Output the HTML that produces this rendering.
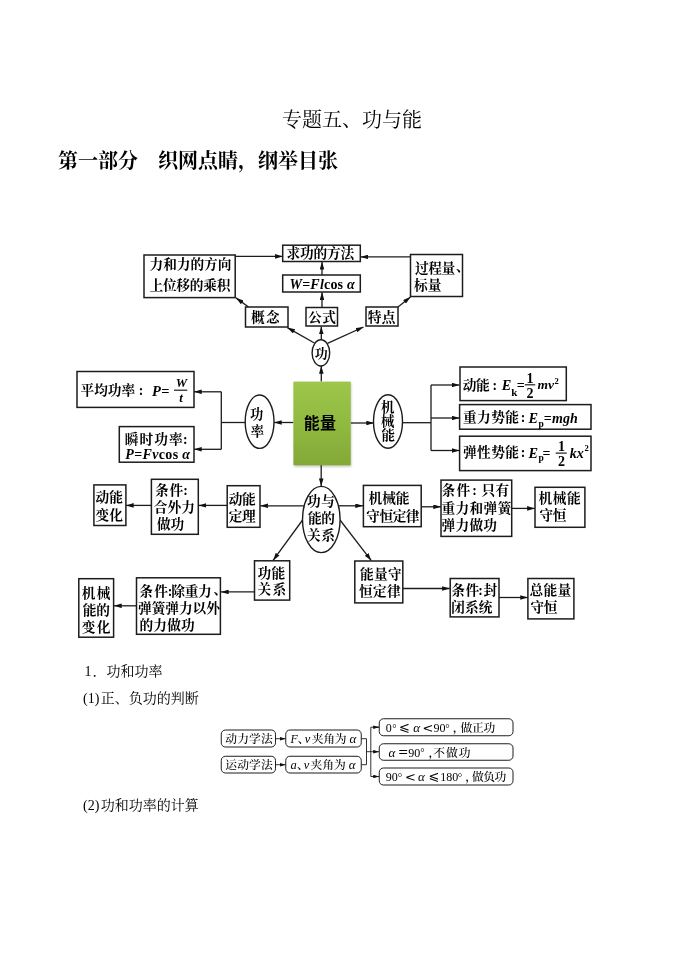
<!DOCTYPE html>
<html lang="zh-CN"><head><meta charset="utf-8"><title>专题五、功与能</title>
<style>
html,body{margin:0;padding:0;background:#fff}
body{width:688px;height:971px;position:relative;overflow:hidden;font-family:"Liberation Serif","Noto Serif CJK SC",serif;color:#000}
.t{position:absolute;white-space:pre;line-height:1;filter:blur(0.25px)}
#title{left:282px;top:110px;font-size:20px;font-weight:400}
#h1{left:58px;top:151px;font-size:20px;font-weight:700}
.p{font-size:14px}
svg{position:absolute;left:0;top:0}
svg text{fill:#000}
.b{font-family:"Liberation Serif","Noto Serif CJK SC",serif;font-weight:700}
.h{font-family:"Liberation Sans","Noto Sans CJK SC",sans-serif;font-weight:700}
.m{font-family:"Liberation Serif",serif;font-weight:700}
.mi{font-family:"Liberation Serif",serif;font-weight:700;font-style:italic}
.s{font-family:"Liberation Serif","Noto Serif CJK SC",serif;font-weight:500}
.op{font-family:"DejaVu Math TeX Gyre","DejaVu Sans",sans-serif;font-weight:400}
.ri{font-family:"Liberation Serif",serif;font-style:italic;font-weight:400}
#d1{filter:blur(0.45px)}
#d2{filter:blur(0.25px)}
</style></head><body>
<div class="t" id="title">专题五、功与能</div>
<div class="t" id="h1">第一部分<span style="margin-left:20px">织网点睛，纲举目张</span></div>
<div class="t p" style="left:84.5px;top:665px">1<span style="margin-left:1px">．功和功率</span></div>
<div class="t p" style="left:83px;top:692px">(1)<span style="margin-left:1.5px">正、负功的判断</span></div>
<div class="t p" style="left:83px;top:798.5px">(2)<span style="margin-left:1.5px">功和功率的计算</span></div>
<svg width="688" height="971" viewBox="0 0 688 971">
<defs>
<marker id="a" viewBox="0 0 10 6" refX="10" refY="3" markerWidth="8" markerHeight="4.6" markerUnits="userSpaceOnUse" orient="auto"><path d="M0 0 L10 3 L0 6 Z" fill="#111"/></marker>
<marker id="s" viewBox="0 0 10 6" refX="10" refY="3" markerWidth="6" markerHeight="3.8" markerUnits="userSpaceOnUse" orient="auto"><path d="M0 0 L10 3 L0 6 Z" fill="#111"/></marker>
<linearGradient id="gg" x1="0" y1="0" x2="0" y2="1"><stop offset="0" stop-color="#9dc64a"/><stop offset="0.5" stop-color="#90ba40"/><stop offset="1" stop-color="#83a838"/></linearGradient>
<filter id="sh" x="-20%" y="-20%" width="140%" height="140%"><feGaussianBlur stdDeviation="0.9"/></filter>
</defs>
<g id="d1">
<path d="M235.2 256.4 L282.7 256.4" fill="none" stroke="#1c1c1c" stroke-width="1.3" marker-end="url(#a)"/>
<path d="M410.5 256.9 L360.6 256.9" fill="none" stroke="#1c1c1c" stroke-width="1.3" marker-end="url(#a)"/>
<path d="M322 307.5 L322 292.3" fill="none" stroke="#1c1c1c" stroke-width="1.3" marker-end="url(#a)"/>
<path d="M322 275 L322 261.8" fill="none" stroke="#1c1c1c" stroke-width="1.3" marker-end="url(#a)"/>
<path d="M248.5 307 L236 297.9" fill="none" stroke="#1c1c1c" stroke-width="1.3" marker-end="url(#a)"/>
<path d="M398 307 L410.5 297" fill="none" stroke="#1c1c1c" stroke-width="1.3" marker-end="url(#a)"/>
<path d="M321.3 340 L321.3 326.5" fill="none" stroke="#1c1c1c" stroke-width="1.3" marker-end="url(#a)"/>
<path d="M314.4 343 L287.3 327.6" fill="none" stroke="#1c1c1c" stroke-width="1.3" marker-end="url(#a)"/>
<path d="M327.5 343.3 L363.5 327" fill="none" stroke="#1c1c1c" stroke-width="1.3" marker-end="url(#a)"/>
<path d="M321.3 381.6 L321.3 366" fill="none" stroke="#1c1c1c" stroke-width="1.3" marker-end="url(#a)"/>
<path d="M293.4 422.5 L274 422.5" fill="none" stroke="#1c1c1c" stroke-width="1.3" marker-end="url(#a)"/>
<path d="M350.7 423 L374 423" fill="none" stroke="#1c1c1c" stroke-width="1.3" marker-end="url(#a)"/>
<path d="M245.5 422.5 L221.3 422.5" fill="none" stroke="#1c1c1c" stroke-width="1.3"/>
<path d="M221.3 391.8 L221.3 449.3" fill="none" stroke="#1c1c1c" stroke-width="1.3"/>
<path d="M221.3 391.8 L194 391.8" fill="none" stroke="#1c1c1c" stroke-width="1.3" marker-end="url(#a)"/>
<path d="M221.3 449.3 L194 449.3" fill="none" stroke="#1c1c1c" stroke-width="1.3" marker-end="url(#a)"/>
<path d="M402.5 422.7 L431 422.7" fill="none" stroke="#1c1c1c" stroke-width="1.3"/>
<path d="M431 385 L431 450.5" fill="none" stroke="#1c1c1c" stroke-width="1.3"/>
<path d="M431 385 L459.5 385" fill="none" stroke="#1c1c1c" stroke-width="1.3" marker-end="url(#a)"/>
<path d="M431 418 L459.5 418" fill="none" stroke="#1c1c1c" stroke-width="1.3" marker-end="url(#a)"/>
<path d="M431 450.5 L459.5 450.5" fill="none" stroke="#1c1c1c" stroke-width="1.3" marker-end="url(#a)"/>
<path d="M321.2 465 L321.2 486.2" fill="none" stroke="#1c1c1c" stroke-width="1.3" marker-end="url(#a)"/>
<path d="M304 505.8 L260.3 505.8" fill="none" stroke="#1c1c1c" stroke-width="1.3" marker-end="url(#a)"/>
<path d="M339 505.8 L363 505.8" fill="none" stroke="#1c1c1c" stroke-width="1.3" marker-end="url(#a)"/>
<path d="M227.2 505.4 L198.6 505.4" fill="none" stroke="#1c1c1c" stroke-width="1.3" marker-end="url(#a)"/>
<path d="M151.4 505.4 L126 505.4" fill="none" stroke="#1c1c1c" stroke-width="1.3" marker-end="url(#a)"/>
<path d="M421.25 506.8 L441 506.8" fill="none" stroke="#1c1c1c" stroke-width="1.3" marker-end="url(#a)"/>
<path d="M511.7 508.4 L534.8 508.4" fill="none" stroke="#1c1c1c" stroke-width="1.3" marker-end="url(#a)"/>
<path d="M302.6 520 L273.1 560.4" fill="none" stroke="#1c1c1c" stroke-width="1.3" marker-end="url(#a)"/>
<path d="M340 520 L371.3 560.6" fill="none" stroke="#1c1c1c" stroke-width="1.3" marker-end="url(#a)"/>
<path d="M254.5 591.9 L221 591.9" fill="none" stroke="#1c1c1c" stroke-width="1.3" marker-end="url(#a)"/>
<path d="M136.5 605.8 L114 605.8" fill="none" stroke="#1c1c1c" stroke-width="1.3" marker-end="url(#a)"/>
<path d="M402.8 588.5 L449.8 588.5" fill="none" stroke="#1c1c1c" stroke-width="1.3" marker-end="url(#a)"/>
<path d="M499 597.5 L527.9 597.5" fill="none" stroke="#1c1c1c" stroke-width="1.3" marker-end="url(#a)"/>
<rect x="144" y="255" width="91.2" height="42.6" rx="0" fill="#fff" stroke="#1c1c1c" stroke-width="1.5"/>
<rect x="282.7" y="245.2" width="77.6" height="16.3" rx="0" fill="#fff" stroke="#1c1c1c" stroke-width="1.5"/>
<rect x="282.7" y="275" width="77.6" height="17" rx="0" fill="#fff" stroke="#1c1c1c" stroke-width="1.5"/>
<text x="289.5" y="288.8" font-size="14" class="m" letter-spacing="0.2"><tspan class="mi">W</tspan>=<tspan class="mi">Fl</tspan>cos <tspan class="mi">α</tspan></text>
<rect x="245.5" y="307" width="42.5" height="20" rx="0" fill="#fff" stroke="#1c1c1c" stroke-width="1.5"/>
<rect x="306" y="307.5" width="31.5" height="18.5" rx="0" fill="#fff" stroke="#1c1c1c" stroke-width="1.5"/>
<rect x="366" y="307" width="32" height="19" rx="0" fill="#fff" stroke="#1c1c1c" stroke-width="1.5"/>
<rect x="410.5" y="254.5" width="52.0" height="42.0" rx="0" fill="#fff" stroke="#1c1c1c" stroke-width="1.5"/>
<ellipse cx="320.9" cy="352.9" rx="8.8" ry="13.1" fill="#fff" stroke="#1c1c1c" stroke-width="1.4"/>
<rect x="294.2" y="383" width="57" height="83.6" fill="#3c4a18" opacity="0.35" filter="url(#sh)"/>
<rect x="293.4" y="381.6" width="57.3" height="83.6" fill="url(#gg)"/>
<ellipse cx="259.6" cy="421.7" rx="14.4" ry="26.7" fill="#fff" stroke="#1c1c1c" stroke-width="1.4"/>
<ellipse cx="388" cy="421.5" rx="14.5" ry="26.8" fill="#fff" stroke="#1c1c1c" stroke-width="1.4"/>
<rect x="77" y="371.5" width="117" height="35.9" rx="0" fill="#fff" stroke="#1c1c1c" stroke-width="1.5"/>
<text x="152" y="395.8" font-size="14.5" class="m"><tspan class="mi">P</tspan><tspan dx="0.5">=</tspan></text>
<text x="181.5" y="386.7" font-size="12.8" class="mi" text-anchor="middle">W</text>
<text x="181" y="401.6" font-size="12.8" class="mi" text-anchor="middle">t</text>
<path d="M174 390.2 L187.3 390.2" fill="none" stroke="#1c1c1c" stroke-width="1.2"/>
<rect x="119.3" y="426.6" width="74.7" height="35.6" rx="0" fill="#fff" stroke="#1c1c1c" stroke-width="1.5"/>
<text x="125.3" y="459.3" font-size="14" class="m" letter-spacing="0.35"><tspan class="mi">P</tspan>=<tspan class="mi">Fv</tspan>cos <tspan class="mi">α</tspan></text>
<rect x="460" y="367" width="106.3" height="33.6" rx="0" fill="#fff" stroke="#1c1c1c" stroke-width="1.5"/>
<text x="501.8" y="390" font-size="14.3" class="mi">E</text>
<text x="511.3" y="396" font-size="11" class="m">k</text>
<text x="516.8" y="390" font-size="14" class="m">=</text>
<text x="530" y="382.9" font-size="14" class="m" text-anchor="middle">1</text>
<text x="530" y="397.8" font-size="14" class="m" text-anchor="middle">2</text>
<path d="M524.8 384.8 L535.2 384.8" fill="none" stroke="#1c1c1c" stroke-width="1.2"/>
<text x="537.5" y="389" font-size="13.5" class="mi">mv</text>
<text x="554.6" y="384" font-size="8.5" class="m">2</text>
<rect x="459.6" y="404.6" width="131.4" height="24.6" rx="0" fill="#fff" stroke="#1c1c1c" stroke-width="1.5"/>
<text x="528.5" y="423.2" font-size="14.3" class="mi">E</text>
<text x="538.6" y="426.5" font-size="9.5" class="m">p</text>
<text x="543.8" y="423.2" font-size="14" class="m">=<tspan class="mi" dx="0.3">mgh</tspan></text>
<rect x="459.6" y="436.2" width="131.4" height="34.4" rx="0" fill="#fff" stroke="#1c1c1c" stroke-width="1.5"/>
<text x="528.5" y="458" font-size="14.3" class="mi">E</text>
<text x="538.6" y="461.3" font-size="9.5" class="m">p</text>
<text x="542.5" y="458" font-size="14" class="m">=</text>
<text x="561.4" y="450.8" font-size="14" class="m" text-anchor="middle">1</text>
<text x="561.4" y="466.3" font-size="14" class="m" text-anchor="middle">2</text>
<path d="M555.7 453.1 L566.7 453.1" fill="none" stroke="#1c1c1c" stroke-width="1.2"/>
<text x="569.7" y="458" font-size="14" class="mi">kx</text>
<text x="584.6" y="450.8" font-size="8.5" class="m">2</text>
<rect x="93.9" y="484.9" width="32.0" height="40.6" rx="0" fill="#fff" stroke="#1c1c1c" stroke-width="1.5"/>
<rect x="151.4" y="479.3" width="46.9" height="55.0" rx="0" fill="#fff" stroke="#1c1c1c" stroke-width="1.5"/>
<rect x="227.2" y="485.7" width="32.8" height="41.6" rx="0" fill="#fff" stroke="#1c1c1c" stroke-width="1.5"/>
<ellipse cx="321.3" cy="519.5" rx="18.8" ry="33.1" fill="#fff" stroke="#1c1c1c" stroke-width="1.4"/>
<rect x="363.4" y="485.4" width="57.8" height="41.3" rx="0" fill="#fff" stroke="#1c1c1c" stroke-width="1.5"/>
<rect x="441" y="480.1" width="70.7" height="56.3" rx="0" fill="#fff" stroke="#1c1c1c" stroke-width="1.5"/>
<rect x="535" y="487.3" width="49.9" height="40.0" rx="0" fill="#fff" stroke="#1c1c1c" stroke-width="1.5"/>
<rect x="254.5" y="560.8" width="35.2" height="39.3" rx="0" fill="#fff" stroke="#1c1c1c" stroke-width="1.5"/>
<rect x="354.8" y="561" width="48.0" height="41.9" rx="0" fill="#fff" stroke="#1c1c1c" stroke-width="1.5"/>
<rect x="136.5" y="577.8" width="83.9" height="56.5" rx="0" fill="#fff" stroke="#1c1c1c" stroke-width="1.5"/>
<rect x="78.8" y="578.7" width="34.8" height="58.5" rx="0" fill="#fff" stroke="#1c1c1c" stroke-width="1.5"/>
<rect x="450.2" y="578.5" width="48.8" height="38.4" rx="0" fill="#fff" stroke="#1c1c1c" stroke-width="1.5"/>
<rect x="527.9" y="578.5" width="46.0" height="40.4" rx="0" fill="#fff" stroke="#1c1c1c" stroke-width="1.5"/>
<text x="149.5" y="269.1" font-size="13.7" class="b" letter-spacing="-0.06">力和力的方向</text>
<text x="149.5" y="289.9" font-size="13.7" class="b" letter-spacing="-0.26">上位移的乘积</text>
<text x="286.5" y="258.25" font-size="13.7" class="b" letter-spacing="-0.19">求功的方法</text>
<text x="251.0" y="321.95" font-size="13.7" class="b" letter-spacing="1.3">概念</text>
<text x="307.9" y="322.15" font-size="13.7" class="b" letter-spacing="0.6">公式</text>
<text x="367.8" y="322.15" font-size="13.7" class="b" letter-spacing="0.2">特点</text>
<text x="415.0" y="272.5" font-size="13.7" class="b" letter-spacing="-0.5">过程量</text>
<text x="414.0" y="290.0" font-size="13.7" class="b">标量</text>
<text x="314.75" y="358.15" font-size="13" class="b">功</text>
<text x="303.75" y="428.5" font-size="16" class="h" letter-spacing="0.25">能量</text>
<text x="250.05" y="418.6" font-size="13.3" class="b">功</text>
<text x="250.65" y="436.0" font-size="13.3" class="b">率</text>
<text x="381.0" y="412.3" font-size="13.5" class="b">机</text>
<text x="381.0" y="426.1" font-size="13.5" class="b">械</text>
<text x="381.5" y="439.9" font-size="13.5" class="b">能</text>
<text x="80.5" y="394.5" font-size="13.7" class="b" letter-spacing="-0.03">平均功率</text>
<text x="124.7" y="443.65" font-size="13.7" class="b" letter-spacing="1.1">瞬时功率</text>
<text x="462.7" y="389.7" font-size="13.7" class="b" letter-spacing="-0.5">动能</text>
<text x="462.9" y="421.85" font-size="13.7" class="b" letter-spacing="0.43">重力势能</text>
<text x="462.9" y="457.4" font-size="13.7" class="b" letter-spacing="0.43">弹性势能</text>
<text x="95.5" y="502.45" font-size="13.7" class="b" letter-spacing="0.1">动能</text>
<text x="95.5" y="520.15" font-size="13.7" class="b" letter-spacing="0.1">变化</text>
<text x="155.1" y="494.7" font-size="13.7" class="b" letter-spacing="0.7">条件</text>
<text x="153.8" y="511.85" font-size="13.7" class="b">合外力</text>
<text x="156.9" y="529.25" font-size="13.7" class="b" letter-spacing="-0.2">做功</text>
<text x="228.7" y="503.9" font-size="13.7" class="b" letter-spacing="-0.5">动能</text>
<text x="228.7" y="521.0" font-size="13.7" class="b" letter-spacing="-0.5">定理</text>
<text x="307.1" y="506.1" font-size="13.7" class="b" letter-spacing="0.5">功与</text>
<text x="308.1" y="523.45" font-size="13.7" class="b" letter-spacing="-0.5">能的</text>
<text x="307.1" y="540.25" font-size="13.7" class="b" letter-spacing="0.5">关系</text>
<text x="368.6" y="503.4" font-size="13.7" class="b" letter-spacing="-0.15">机械能</text>
<text x="366.3" y="520.6" font-size="13.7" class="b" letter-spacing="-0.5">守恒定律</text>
<text x="441.5" y="495.35" font-size="13.7" class="b" letter-spacing="1.3">条件</text>
<text x="481.5" y="495.35" font-size="13.7" class="b" letter-spacing="0.2">只有</text>
<text x="441.5" y="512.8" font-size="13.7" class="b" letter-spacing="0.35">重力和弹簧</text>
<text x="441.5" y="529.5" font-size="13.7" class="b" letter-spacing="0.27">弹力做功</text>
<text x="538.4" y="502.8" font-size="13.7" class="b" letter-spacing="0.6">机械能</text>
<text x="539.4" y="520.2" font-size="13.7" class="b" letter-spacing="-0.4">守恒</text>
<text x="257.6" y="577.55" font-size="13.7" class="b" letter-spacing="0.2">功能</text>
<text x="257.6" y="594.1" font-size="13.7" class="b" letter-spacing="1.2">关系</text>
<text x="360.1" y="578.65" font-size="13.7" class="b" letter-spacing="0.3">能量守</text>
<text x="359.1" y="596.05" font-size="13.7" class="b" letter-spacing="0.3">恒定律</text>
<text x="139.2" y="596.25" font-size="13.7" class="b" letter-spacing="1.3">条件</text>
<text x="171.2" y="596.25" font-size="13.7" class="b" letter-spacing="-0.25">除重力</text>
<text x="138.0" y="613.0" font-size="13.7" class="b" letter-spacing="-0.04">弹簧弹力以外</text>
<text x="139.5" y="629.7" font-size="13.7" class="b" letter-spacing="0.17">的力做功</text>
<text x="81.8" y="598.0" font-size="13.7" class="b" letter-spacing="1.3">机械</text>
<text x="82.8" y="614.8" font-size="13.7" class="b" letter-spacing="-0.3">能的</text>
<text x="81.8" y="632.3" font-size="13.7" class="b" letter-spacing="1.2">变化</text>
<text x="451.2" y="594.6" font-size="13.7" class="b" letter-spacing="0.5">条件</text>
<text x="483.4" y="594.6" font-size="13.7" class="b">封</text>
<text x="451.2" y="611.8" font-size="13.7" class="b" letter-spacing="0.15">闭系统</text>
<text x="529.6" y="595.35" font-size="13.7" class="b" letter-spacing="0.3">总能量</text>
<text x="530.6" y="612.05" font-size="13.7" class="b" letter-spacing="-0.5">守恒</text>
<text x="456.0" y="271.0" font-size="13.7" class="b">、</text>
<text x="213.5" y="594.25" font-size="13.7" class="b">、</text>
<text x="141" y="394.5" font-size="13.7" class="m" text-anchor="middle">:</text>
<text x="185.3" y="443.65" font-size="13.7" class="m" text-anchor="middle">:</text>
<text x="494.8" y="389.7" font-size="13.7" class="m" text-anchor="middle">:</text>
<text x="523" y="421.85" font-size="13.7" class="m" text-anchor="middle">:</text>
<text x="523" y="457.4" font-size="13.7" class="m" text-anchor="middle">:</text>
<text x="185.6" y="494.7" font-size="13.7" class="m" text-anchor="middle">:</text>
<text x="474.5" y="495.35" font-size="13.7" class="m" text-anchor="middle">:</text>
<text x="170.1" y="596.25" font-size="13.7" class="m" text-anchor="middle">:</text>
<text x="480.6" y="594.6" font-size="13.7" class="m" text-anchor="middle">:</text>
</g>
<g id="d2">
<path d="M275.5 738.7 L285.7 738.7" fill="none" stroke="#1c1c1c" stroke-width="0.9" marker-end="url(#s)"/>
<path d="M275.5 764.7 L285.7 764.7" fill="none" stroke="#1c1c1c" stroke-width="0.9" marker-end="url(#s)"/>
<path d="M361.2 738.7 L366.5 738.7 L366.5 764.7 L361.2 764.7" fill="none" stroke="#1c1c1c" stroke-width="0.9"/>
<path d="M366.5 751.7 L379.2 751.7" fill="none" stroke="#1c1c1c" stroke-width="0.9" marker-end="url(#s)"/>
<path d="M379.2 727.2 L370.8 727.2 L370.8 776.5 L379.2 776.5" fill="none" stroke="#1c1c1c" stroke-width="0.9"/>
<path d="M373 727.2 L379.2 727.2" fill="none" stroke="#1c1c1c" stroke-width="0.9" marker-end="url(#s)"/>
<path d="M373 776.5 L379.2 776.5" fill="none" stroke="#1c1c1c" stroke-width="0.9" marker-end="url(#s)"/>
<rect x="221.25" y="730" width="54.25" height="17" rx="4.2" fill="#fff" stroke="#1c1c1c" stroke-width="1.0"/>
<rect x="221.25" y="756.25" width="54.25" height="16.75" rx="4.2" fill="#fff" stroke="#1c1c1c" stroke-width="1.0"/>
<rect x="285.75" y="730" width="75.5" height="17" rx="4.2" fill="#fff" stroke="#1c1c1c" stroke-width="1.0"/>
<rect x="285.75" y="756.25" width="75.5" height="16.75" rx="4.2" fill="#fff" stroke="#1c1c1c" stroke-width="1.0"/>
<rect x="379.25" y="718.75" width="133.75" height="17.0" rx="4.2" fill="#fff" stroke="#1c1c1c" stroke-width="1.0"/>
<rect x="379.25" y="743.75" width="133.75" height="16.5" rx="4.2" fill="#fff" stroke="#1c1c1c" stroke-width="1.0"/>
<rect x="379.25" y="768" width="133.75" height="17" rx="4.2" fill="#fff" stroke="#1c1c1c" stroke-width="1.0"/>
<text x="225.25" y="743.25" font-size="11.8" class="s" letter-spacing="0.08">动力学法</text>
<text x="225.25" y="769.45" font-size="11.8" class="s" letter-spacing="0.08">运动学法</text>
<text x="311.75" y="743.25" font-size="11.8" class="s" letter-spacing="-0.25">夹角为</text>
<text x="310.5" y="769.45" font-size="11.8" class="s" letter-spacing="-0.05">夹角为</text>
<text x="460.5" y="732.25" font-size="11.8" class="s" letter-spacing="-0.25">做正功</text>
<text x="433.2" y="757.05" font-size="11.8" class="s" letter-spacing="1.0">不做功</text>
<text x="472.0" y="781.25" font-size="11.8" class="s" letter-spacing="-0.5">做负功</text>
<text x="297.85" y="742.5" font-size="11.8" class="s">、</text>
<text x="297.0" y="768.5" font-size="11.8" class="s">、</text>
<text x="452.85" y="732.25" font-size="11.8" class="s">，</text>
<text x="428.6" y="756.75" font-size="11.8" class="s">，</text>
<text x="465.35" y="781.25" font-size="11.8" class="s">，</text>
<text x="290.6" y="743" font-size="11.8" class="ri" text-anchor="start">F</text>
<text x="304.8" y="743" font-size="12.5" class="ri" text-anchor="start">v</text>
<text x="349.6" y="743" font-size="13" class="ri" text-anchor="start">α</text>
<text x="290.6" y="769.2" font-size="12.5" class="ri" text-anchor="start">a</text>
<text x="303.8" y="769.2" font-size="12.5" class="ri" text-anchor="start">v</text>
<text x="348.8" y="769.2" font-size="13" class="ri" text-anchor="start">α</text>
<text x="385.8" y="732" font-size="12" class="s" text-anchor="start">0</text>
<text x="392.3" y="731.5" font-size="11" class="s" text-anchor="start">°</text>
<text x="404.4" y="731.6" font-size="13" class="op" text-anchor="middle">⩽</text>
<text x="413.2" y="732" font-size="13" class="ri" text-anchor="start">α</text>
<text x="427.8" y="731.6" font-size="13" class="op" text-anchor="middle">&lt;</text>
<text x="433.4" y="732" font-size="12" class="s" text-anchor="start">90</text>
<text x="445.3" y="731.5" font-size="11" class="s" text-anchor="start">°</text>
<text x="388.6" y="756.7" font-size="13" class="ri" text-anchor="start">α</text>
<text x="403.2" y="756.3000000000001" font-size="12.5" class="op" text-anchor="middle">=</text>
<text x="408.3" y="756.7" font-size="12" class="s" text-anchor="start">90</text>
<text x="420.2" y="756.2" font-size="11" class="s" text-anchor="start">°</text>
<text x="385.8" y="781.3" font-size="12" class="s" text-anchor="start">90</text>
<text x="397.8" y="780.8" font-size="11" class="s" text-anchor="start">°</text>
<text x="410.3" y="780.9" font-size="13" class="op" text-anchor="middle">&lt;</text>
<text x="418" y="781.3" font-size="13" class="ri" text-anchor="start">α</text>
<text x="433.8" y="780.9" font-size="13" class="op" text-anchor="middle">⩽</text>
<text x="440.2" y="781.3" font-size="12" class="s" text-anchor="start">180</text>
<text x="457.8" y="780.8" font-size="11" class="s" text-anchor="start">°</text>
</g>
</svg>
</body></html>
